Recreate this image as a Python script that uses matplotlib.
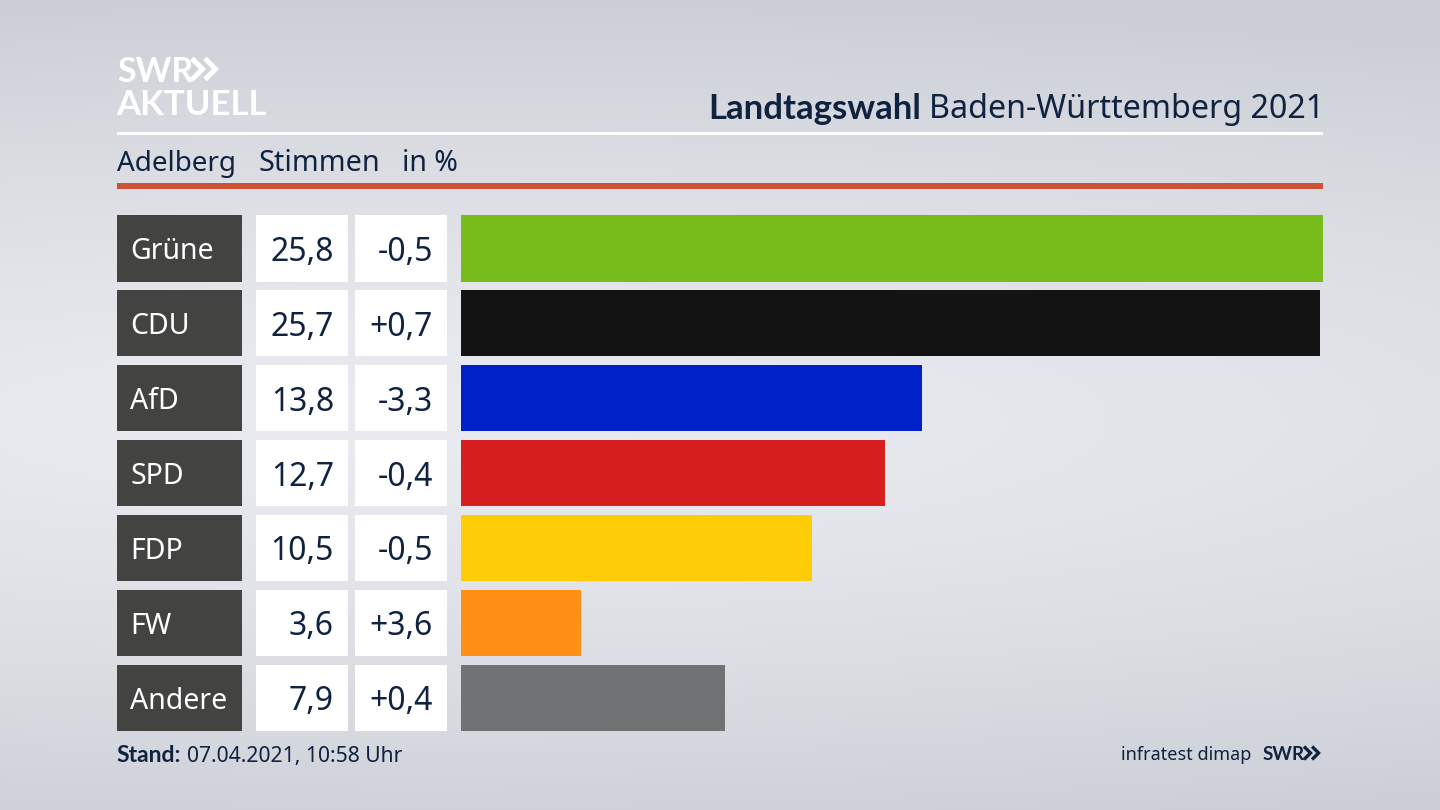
import numpy as np
import matplotlib
matplotlib.use("Agg")
import matplotlib.pyplot as plt
from matplotlib.patches import Rectangle

parties = ["Grüne", "CDU", "AfD", "SPD", "FDP", "FW", "Andere"]
shares = [25.8, 25.7, 13.8, 12.7, 10.5, 3.6, 7.9]
changes = ["-0,5", "+0,7", "-3,3", "-0,4", "-0,5", "+3,6", "+0,4"]
bar_colors = ["#78bc1b", "#131313", "#0021c8", "#d61f1f", "#ffcc08", "#ff9015", "#717274"]

W, H = 1440, 810
NAVY = "#0f2240"
plt.rcParams["font.family"] = ["Noto Sans", "DejaVu Sans"]
BOLD = ["Lato", "Open Sans", "DejaVu Sans"]

fig = plt.figure(figsize=(W / 100, H / 100), dpi=100)

bg = fig.add_axes([0, 0, 1, 1])
yy, xx = np.mgrid[0:1:810j, 0:1:1440j]
d = np.clip(np.sqrt(((yy - 0.52) / 0.52) ** 2 + ((xx - 0.30) / 1.6) ** 2), 0, 1) ** 1.4
top = np.array([0xcc, 0xcf, 0xd6]) / 255
mid = np.array([0xea, 0xeb, 0xf0]) / 255
grad = mid + (top - mid) * d[..., None]
bg.imshow(grad, extent=[0, W, H, 0], aspect="auto", zorder=0, interpolation="nearest")
bg.set_xlim(0, W)
bg.set_ylim(H, 0)
bg.axis("off")


def px_text(x, y, s, size, color=NAVY, ha="left", bold=False):
    kw = {"family": BOLD, "fontweight": "bold"} if bold else {}
    bg.text(x, y, s, fontsize=size, color=color, ha=ha, va="center_baseline", zorder=5, **kw)


def box(x, y, w, h, color):
    bg.add_patch(Rectangle((x, y), w, h, facecolor=color, edgecolor="none", lw=0, zorder=3))


def chevrons(x, y, h, color, lw):
    for dx in (0, h * 0.62):
        bg.plot([x + dx, x + dx + h * 0.5, x + dx], [y - h / 2, y, y + h / 2],
                color=color, lw=lw, solid_joinstyle="miter", solid_capstyle="butt", zorder=5)


# Header
px_text(117, 69, "SWR", 24.5, color="white", bold=True)
chevrons(192, 69, 21, "white", 3.6)
px_text(116, 102, "AKTUELL", 25, color="white", bold=True)
box(117, 132, 1206, 3, "white")
box(117, 183, 1206, 6, "#cd5238")

px_text(921, 106, "Landtagswahl", 25, ha="right", bold=True)
px_text(1324, 106, "Baden-Württemberg 2021", 23.2, ha="right")

px_text(117, 160, "Adelberg", 20)
px_text(258, 160, "Stimmen", 20.7)
px_text(402, 160, "in %", 20.5)

# Rows
ROW_TOP, PITCH, ROW_H = 215, 74.93, 66.5
for i, (p, s, c) in enumerate(zip(parties, shares, changes)):
    y0 = ROW_TOP + i * PITCH
    cy = y0 + ROW_H / 2
    box(117, y0, 124.5, ROW_H, "#434342")
    box(256, y0, 92, ROW_H, "white")
    box(355, y0, 92, ROW_H, "white")
    px_text(130.5, cy, p, 20.5, color="white")
    px_text(334, cy, f"{s:.1f}".replace(".", ","), 23, ha="right")
    px_text(433, cy, c, 23, ha="right")

# Bars
bottom_px = ROW_TOP + 6 * PITCH + ROW_H
ax = fig.add_axes([461 / W, 1 - bottom_px / H, (1323 - 461) / W, (bottom_px - ROW_TOP) / H])
ax.patch.set_alpha(0)
ax.set_xlim(0, max(shares))
ax.set_ylim((bottom_px - ROW_TOP) / PITCH - ROW_H / PITCH / 2, -ROW_H / PITCH / 2)
ax.barh(range(len(parties)), shares, height=ROW_H / PITCH, color=bar_colors, linewidth=0)
ax.axis("off")

# Footer
px_text(116, 754, "Stand:", 16.5, bold=True)
px_text(187, 754, "07.04.2021, 10:58 Uhr", 15.2)
px_text(1251, 753, "infratest dimap", 13, ha="right")
px_text(1263, 753, "SWR", 13.5, bold=True)
chevrons(1304, 753, 13, NAVY, 2.4)

fig.savefig("out.png", dpi=100)
